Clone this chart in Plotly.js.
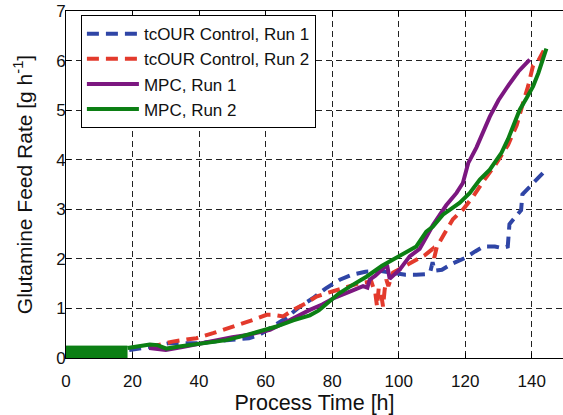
<!DOCTYPE html>
<html>
<head>
<meta charset="utf-8">
<script src="https://cdn.plot.ly/plotly-3.0.1.min.js"></script>
<style>html,body{margin:0;padding:0;background:#fff;}#chart{width:563px;height:415px;}</style>
</head>
<body>
<div id="chart"></div>
<script>
// ---- data ----
const seriesNames = ["tcOUR Control, Run 1", "tcOUR Control, Run 2", "MPC, Run 1", "MPC, Run 2"];

const blueX = [19, 22, 25, 28, 31, 35, 40, 44, 48, 52, 55, 58, 62, 66, 70, 74.3, 78, 82.3, 86, 90, 94.3, 98.3, 102, 105.3, 108, 109.5, 110.2, 110.8, 113, 116, 120, 123, 125.5, 128.9, 131, 132.8, 133.3, 134.5, 136, 136.8, 137.2, 140.4, 143.9];
const blueY = [0.16, 0.18, 0.22, 0.26, 0.3, 0.3, 0.3, 0.33, 0.36, 0.37, 0.4, 0.46, 0.63, 0.8, 1.02, 1.21, 1.4, 1.58, 1.68, 1.74, 1.76, 1.71, 1.68, 1.68, 1.69, 1.74, 1.93, 1.76, 1.78, 1.9, 2.02, 2.15, 2.25, 2.25, 2.22, 2.25, 2.7, 2.8, 2.9, 2.98, 3.3, 3.53, 3.77];

const redX = [25, 28, 32, 36, 39.2, 44.2, 48, 51.3, 56.3, 60.3, 62.5, 65.3, 68.3, 72, 75.3, 78.5, 81.3, 84.5, 88.3, 91.8, 93, 93.5, 94, 94.6, 95.3, 95.8, 96.3, 96.9, 98.3, 101, 104.6, 108, 110.2, 110.7, 111.5, 114.3, 116.3, 119.4, 122.4, 125.4, 129.4, 132.9, 135.5, 137.4, 138.9, 140.4, 142, 143.6];
const redY = [0.22, 0.27, 0.33, 0.37, 0.4, 0.5, 0.58, 0.67, 0.77, 0.87, 0.87, 0.84, 0.97, 1.1, 1.24, 1.31, 1.37, 1.44, 1.51, 1.54, 1.3, 1.04, 1.4, 1.35, 1.04, 1.38, 1.58, 1.45, 1.72, 1.82, 1.96, 2.08, 2.2, 2.02, 2.25, 2.59, 2.8, 3.0, 3.26, 3.56, 3.93, 4.3, 4.7, 5.15, 5.48, 5.9, 6.0, 6.2];

const purpleX = [25, 27, 30, 35, 40, 45, 50, 55, 61.3, 66.3, 70.3, 73.3, 77, 80.3, 85.3, 89.3, 90.6, 91.3, 93, 95.3, 96.5, 97.3, 100.3, 103.3, 106.3, 110.3, 114.3, 117.4, 119.3, 120.9, 123.4, 127.4, 130, 133, 136, 139.4];
const purpleY = [0.2, 0.18, 0.16, 0.22, 0.29, 0.36, 0.42, 0.47, 0.57, 0.73, 0.88, 0.97, 1.08, 1.2, 1.34, 1.45, 1.42, 1.58, 1.66, 1.8, 1.88, 1.6, 1.78, 2.05, 2.2, 2.68, 3.08, 3.33, 3.53, 3.93, 4.25, 4.87, 5.2, 5.5, 5.78, 6.02];

const greenX = [18.5, 22, 25.2, 27.5, 30.2, 34, 38.2, 43, 48.2, 53, 58.3, 63, 68.3, 73.3, 76, 78.3, 82, 85.3, 90.3, 95, 100, 105.3, 108.3, 110.3, 113.3, 118.3, 121.4, 124.4, 127.4, 129.4, 130.9, 132.9, 136.4, 138.5, 140.4, 142, 143.4, 144.4];
const greenY = [0.2, 0.24, 0.27, 0.26, 0.19, 0.23, 0.27, 0.31, 0.36, 0.44, 0.53, 0.63, 0.76, 0.86, 0.96, 1.1, 1.3, 1.44, 1.64, 1.86, 2.05, 2.25, 2.55, 2.65, 2.89, 3.13, 3.33, 3.6, 3.8, 4.0, 4.14, 4.42, 5.01, 5.25, 5.48, 5.75, 6.02, 6.24];

// solid startup block of MPC run 2 (0 - 18.5 h)
const blockX = [0, 18.5];
const blockY = [0.24, 0.24];

const xTicks = [0, 20, 40, 60, 80, 100, 120, 140];
const yTicks = [0, 1, 2, 3, 4, 5, 6, 7];

// ---- styling ----
const font = "Liberation Sans, Arial, Helvetica, sans-serif";
const cBlue = "#2f45a6", cRed = "#e33a2c", cPurple = "#7c1780", cGreen = "#0c7f14";

const traces = [
  {x: blockX, y: blockY, type: "scatter", mode: "lines", fill: "tozeroy",
   fillcolor: cGreen, line: {color: cGreen, width: 1}, showlegend: false, hoverinfo: "skip"},
  {x: blueX, y: blueY, name: seriesNames[0], type: "scatter", mode: "lines",
   line: {color: cBlue, width: 4, dash: "12px,7px"}},
  {x: redX, y: redY, name: seriesNames[1], type: "scatter", mode: "lines",
   line: {color: cRed, width: 4, dash: "12px,7px"}},
  {x: purpleX, y: purpleY, name: seriesNames[2], type: "scatter", mode: "lines",
   line: {color: cPurple, width: 4}},
  {x: greenX, y: greenY, name: seriesNames[3], type: "scatter", mode: "lines",
   line: {color: cGreen, width: 4}}
];

const layout = {
  width: 563, height: 415,
  margin: {l: 66, r: 0, t: 11, b: 57},
  paper_bgcolor: "#fff", plot_bgcolor: "#fff",
  font: {family: font, size: 17, color: "#111"},
  showlegend: true,
  legend: {x: 0.03, y: 0.988, xanchor: "left", yanchor: "top",
           bgcolor: "#fff", bordercolor: "#000", borderwidth: 1,
           itemwidth: 52, tracegroupgap: 0,
           font: {family: font, size: 17, color: "#111"},
           traceorder: "normal"},
  xaxis: {
    range: [0, 149.4], tickvals: xTicks, ticktext: xTicks.map(String),
    showgrid: true, gridcolor: "#222", gridwidth: 1, griddash: "6px,4px",
    zeroline: false, showline: true, linecolor: "#000", linewidth: 1, mirror: "ticks",
    ticks: "inside", ticklen: 5, tickcolor: "#000", ticklabelstandoff: 8,
    tickfont: {family: font, size: 17, color: "#111"},
    title: {text: "Process Time [h]", font: {family: font, size: 21.5, color: "#111"}, standoff: 4}
  },
  yaxis: {
    range: [0, 7], tickvals: yTicks, ticktext: yTicks.map(String),
    showgrid: true, gridcolor: "#222", gridwidth: 1, griddash: "6px,4px",
    zeroline: false, showline: true, linecolor: "#000", linewidth: 1, mirror: false,
    ticks: "inside", ticklen: 5, tickcolor: "#000", ticklabelstandoff: -4,
    tickfont: {family: font, size: 17, color: "#111"},
    title: {text: "Glutamine Feed Rate [g h<sup>-1</sup>]", font: {family: font, size: 21, color: "#111"}, standoff: 17}
  }
};

Plotly.newPlot("chart", traces, layout, {displayModeBar: false, staticPlot: true});
</script>
</body>
</html>
